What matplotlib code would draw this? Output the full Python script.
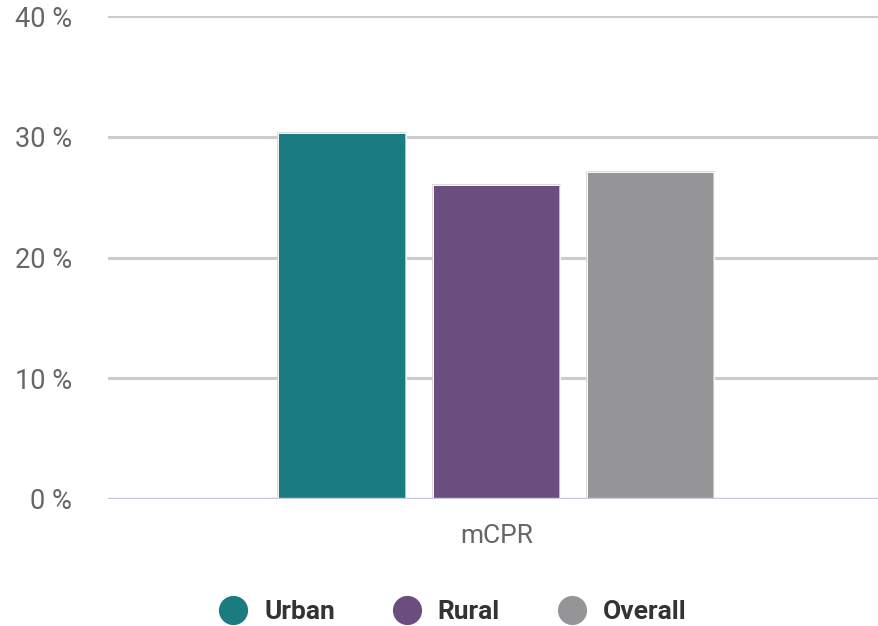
import matplotlib
matplotlib.use("Agg")
import matplotlib.pyplot as plt
from matplotlib.lines import Line2D

categories = ["mCPR"]
series_names = ["Urban", "Rural", "Overall"]
series_values = [30.3, 26.0, 27.1]
colors = ["#1a7c80", "#6b4e7e", "#959598"]
yticks = [0, 10, 20, 30, 40]
ytick_labels = ["0 %", "10 %", "20 %", "30 %", "40 %"]

plt.rcParams['font.family'] = ['Roboto', 'DejaVu Sans']

fig = plt.figure(figsize=(8.79, 6.26), dpi=100)
ax = fig.add_axes([0.1229, 0.2029, 0.8771, 0.7715])

bar_w = 0.165
step = 0.2
center = 0.0035
for i, (name, v, c) in enumerate(zip(series_names, series_values, colors)):
    x = center + (i - 1) * step
    ax.bar(x, v, width=bar_w, color=c, edgecolor="#d4d4d4", linewidth=1.2, zorder=3)
    ax.bar(x, v, width=bar_w, color="none", edgecolor="white", linewidth=0.6, zorder=4)

ax.set_xlim(-0.5, 0.5)
ax.set_ylim(0, 40)
ax.set_yticks(yticks)
ax.set_yticklabels(ytick_labels)
ax.set_xticks([center])
ax.set_xticklabels(categories)
for y in yticks[1:]:
    ax.axhline(y, color="#cccccc", lw=2.2, zorder=1)
ax.axhline(0, color="#c5cbdc", lw=2.5, zorder=5)
for s in ax.spines.values():
    s.set_visible(False)
ax.tick_params(axis="y", length=0, pad=26, labelsize=19.5, labelcolor="#666666")
ax.tick_params(axis="x", length=0, pad=18, labelsize=19, labelcolor="#666666")

handles = [Line2D([], [], marker="o", ls="none", markersize=20, markerfacecolor=c,
                  markeredgecolor=c) for c in colors]
leg = fig.legend(handles, series_names, loc="center", bbox_to_anchor=(0.508, 0.022),
                 ncol=3, frameon=False, handletextpad=0.18, columnspacing=1.72,
                 prop={"weight": "bold", "size": 19})
for t in leg.get_texts():
    t.set_color("#333333")

fig.savefig("out.png", dpi=100)
